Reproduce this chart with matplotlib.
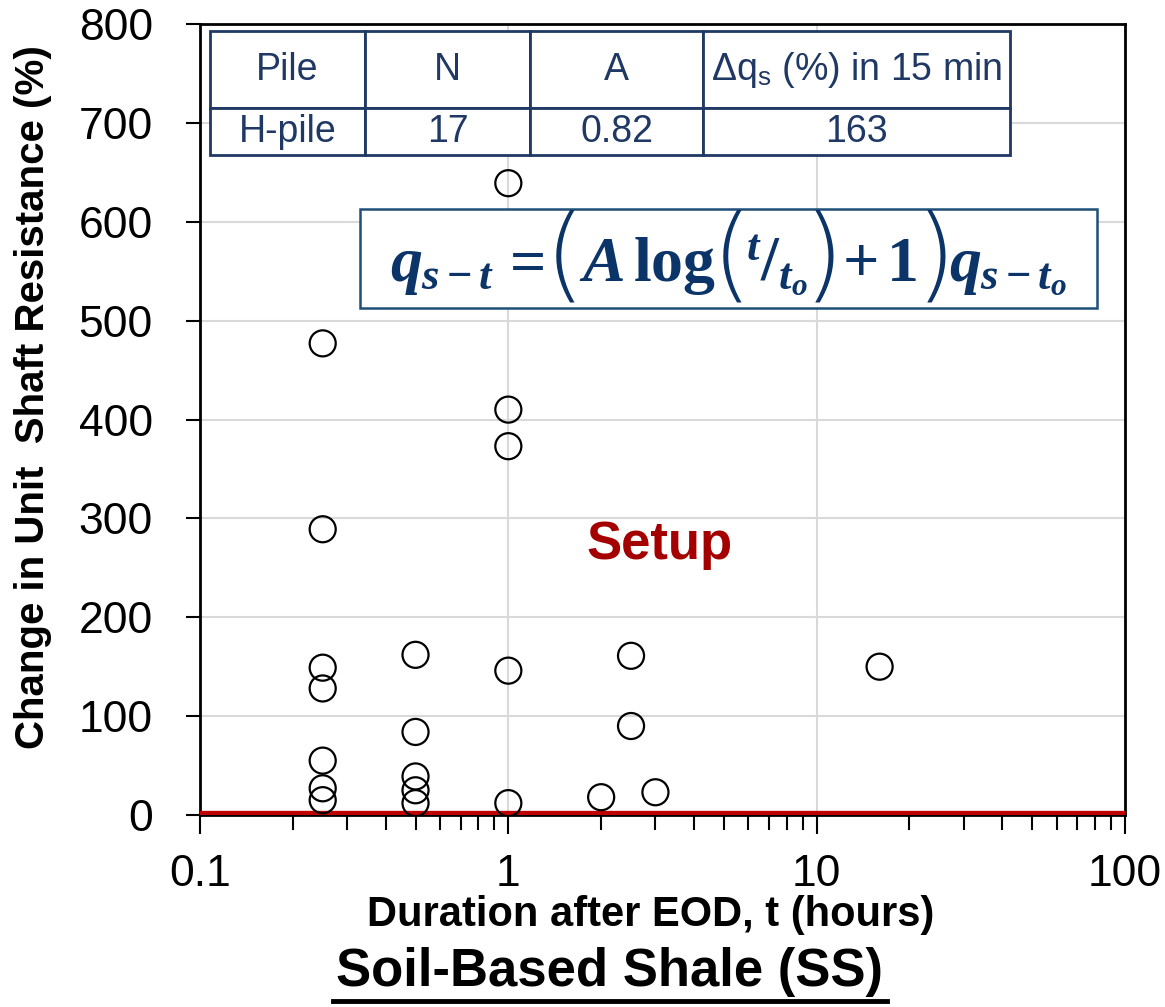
import matplotlib
matplotlib.use("Agg")
import matplotlib.pyplot as plt
from matplotlib.patches import Rectangle
from matplotlib.ticker import LogLocator, NullFormatter, FixedLocator, FixedFormatter

# ---------------- data ----------------
t_hours = [0.25, 0.25, 0.25, 0.25, 0.25, 0.25, 0.25,
           0.5, 0.5, 0.5, 0.5, 0.5,
           1, 1, 1, 1, 1,
           2, 2.5, 2.5, 3, 16]
dq_pct = [477, 289, 149, 128, 55, 27, 15,
          162, 84, 39, 25, 12,
          639, 410, 373, 146, 12,
          18, 161, 90, 23, 150]

x_ticks = [0.1, 1, 10, 100]
x_tick_labels = ["0.1", "1", "10", "100"]
y_ticks = [0, 100, 200, 300, 400, 500, 600, 700, 800]

table_cols = ["Pile", "N", "A", r"Δq$_\mathregular{s}$ (%) in 15 min"]
table_row = ["H-pile", "17", "0.82", "163"]

NAVY = "#1F3864"
FORM = "#0B3468"
RED = "#C00000"

W, H = 1165, 1007
plt.rcParams["font.family"] = ["Liberation Sans", "DejaVu Sans"]
plt.rcParams["mathtext.fontset"] = "custom"
plt.rcParams["mathtext.rm"] = "Liberation Serif:bold"
plt.rcParams["mathtext.it"] = "Liberation Serif:italic:bold"
plt.rcParams["mathtext.bf"] = "Liberation Serif:bold"

fig = plt.figure(figsize=(W / 100, H / 100), dpi=100)
ax = fig.add_axes([200 / W, 1 - 815 / H, 925 / W, 791 / H])

ax.set_xscale("log")
ax.set_xlim(0.1, 100)
ax.set_ylim(0, 800)

ax.grid(True, which="major", color="#D9D9D9", lw=1.5, zorder=0)
ax.set_axisbelow(True)

# red setup line at 0
ax.axhline(0, color=RED, lw=6, zorder=3, solid_capstyle="butt")

ax.scatter(t_hours, dq_pct, s=26**2 * 0.52, facecolors="none",
           edgecolors="black", linewidths=1.6, zorder=4)

ax.xaxis.set_major_locator(FixedLocator(x_ticks))
ax.xaxis.set_major_formatter(FixedFormatter(x_tick_labels))
ax.xaxis.set_minor_locator(LogLocator(base=10, subs=range(2, 10)))
ax.xaxis.set_minor_formatter(NullFormatter())
ax.set_yticks(y_ticks)

ax.tick_params(axis="x", which="major", direction="out", length=14, width=1.5,
               labelsize=32, pad=14)
ax.tick_params(axis="x", which="minor", direction="out", length=11, width=1.5)
ax.tick_params(axis="y", which="major", direction="out", length=10, width=1.5,
               labelsize=32, pad=24)
for sp in ax.spines.values():
    sp.set_linewidth(2)
    sp.set_color("black")

# axis labels
fig.text(33 / W, 1 - 397 / H, "Change in Unit  Shaft Resistance (%)",
         rotation=90, ha="center", va="center", fontsize=29, fontweight="bold")
fig.text(651 / W, 1 - 915 / H, "Duration after EOD, t (hours)",
         ha="center", va="center", fontsize=30, fontweight="bold")
fig.text(610 / W, 1 - 972 / H, "Soil-Based Shale (SS)",
         ha="center", va="center", fontsize=38, fontweight="bold")
fig.add_artist(plt.Line2D([333 / W, 887 / W], [1 - 1001 / H, 1 - 1001 / H],
                          color="black", lw=3.5, transform=fig.transFigure))

# Setup text
ax.text(3.1, 273, "Setup", color="#A50000", fontsize=38, fontweight="bold",
        ha="center", va="center", zorder=5)

# table
x0 = (210 - 200) / 925
x1 = (1010 - 200) / 925
yt = (815 - 31) / 791
yb = (815 - 155) / 791
colw = [155, 165, 173, 307]
tab = ax.table(cellText=[table_row], colLabels=table_cols,
               colWidths=[w / sum(colw) for w in colw],
               cellLoc="center", bbox=[x0, yb, x1 - x0, yt - yb], zorder=6)
tab.auto_set_font_size(False)
for (r, c), cell in tab.get_celld().items():
    cell.set_edgecolor(NAVY)
    cell.set_linewidth(2)
    cell.set_facecolor("white")
    cell.get_text().set_color(NAVY)
    cell.get_text().set_fontsize(27)
    cell.set_height(77 if r == 0 else 47)

# formula box
fx0 = (360 - 200) / 925
fx1 = (1097 - 200) / 925
fyt = (815 - 209) / 791
fyb = (815 - 308) / 791
ax.add_patch(Rectangle((fx0, fyb), fx1 - fx0, fyt - fyb, transform=ax.transAxes,
                       facecolor="white", edgecolor="#1F4E79", lw=1.8, zorder=6))

# formula laid out piece by piece (big parentheses drawn separately)
FS = 46          # main formula size
PFS = 74         # big parenthesis size
base_y = 281     # baseline (pixels from top)
paren_dy = 7     # parenthesis baseline shift (pixels, downward)
pieces = [
    (r"$q_{s-t}$", FS, 0, 6),
    (r"$=$", FS, 0, 0),
    ("(", PFS, paren_dy, -6),
    (r"$A\,\mathrm{log}$", FS, 0, -4),
    ("(", PFS, paren_dy, -6),
    (r"${}^{t}/_{t_o}$", FS, 0, -4),
    (")", PFS, paren_dy, -2),
    (r"$+\,1$", FS, 0, -2),
    (")", PFS, paren_dy, -6),
    (r"$q_{s-t_o}$", FS, 0, 0),
]
renderer = fig.canvas.get_renderer()
texts = []
xcur = 0.0
for s, fs, dy, gap in pieces:
    if s in "()":
        t = fig.text(0, 0, s, fontsize=fs, color=FORM, ha="left", va="baseline",
                     family="DejaVu Sans", fontweight="ultralight", zorder=8)
    else:
        t = fig.text(0, 0, s, fontsize=fs, color=FORM, ha="left", va="baseline", zorder=8)
    w = t.get_window_extent(renderer).width
    texts.append((t, xcur, dy))
    xcur += w + gap
total = xcur
start = (360 + 1097) / 2 - total / 2
for t, xo, dy in texts:
    t.set_position(((start + xo) / W, 1 - (base_y + dy) / H))

fig.savefig("out.png", dpi=100)
